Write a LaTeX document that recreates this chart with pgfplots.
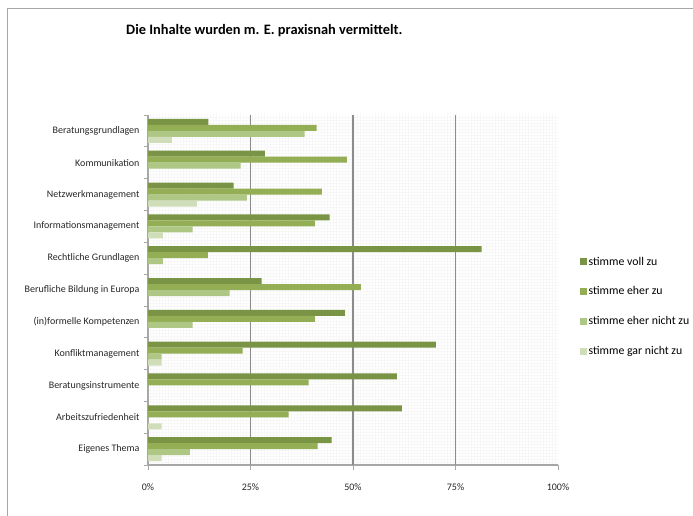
\documentclass[border=0pt]{standalone}
\usepackage{pgfplots}
\pgfplotsset{compat=1.18}
\usepackage{fontspec}
\setmainfont{Carlito}
\usetikzlibrary{patterns}
\definecolor{voll}{HTML}{7A9445}
\definecolor{eher}{HTML}{93AE55}
\definecolor{ehernicht}{HTML}{AEC785}
\definecolor{garnicht}{HTML}{D0DDB9}
\definecolor{achse}{HTML}{A6A6A6}
\definecolor{gitter}{HTML}{8C8C8C}

% Werte in Prozent, Themen von oben (0) nach unten (10)
\pgfplotstableread{
pos voll eher ehernicht garnicht
0  14.7 41.1 38.2 5.8
1  28.5 48.5 22.6 0
2  20.9 42.4 24.1 11.9
3  44.3 40.7 10.9 3.6
4  81.4 14.6 3.6  0
5  27.7 51.9 19.9 0
6  48.0 40.7 10.9 0
7  70.2 23.1 3.3  3.3
8  60.7 39.2 0    0
9  61.9 34.3 0    3.3
10 44.8 41.4 10.2 3.3
}\daten

\begin{document}
\begin{tikzpicture}
\useasboundingbox (0pt,0pt) rectangle (693pt,516pt);
\draw[achse, line width=1pt] (7pt,0pt) -- (7pt,507pt) -- (693pt,507pt);
\node[anchor=west, inner sep=0pt, font=\bfseries\fontsize{14.4}{16}\selectfont]
  at (126pt,485pt) {Die Inhalte wurden m. E. praxisnah vermittelt.};
\begin{axis}[
  at={(148pt,51pt)}, anchor=south west,
  width=410pt, height=350pt, scale only axis,
  xbar=0pt, bar width=6pt,
  xmin=0, xmax=100,
  ymin=-0.5, ymax=10.5, y dir=reverse,
  axis lines*=left,
  axis line style={-, achse, line width=1.2pt},
  axis background/.style={pattern=grid, pattern color=black!3},
  tick align=outside,
  major tick length=5pt, minor tick length=4pt,
  xtick={0,25,50,75,100},
  xticklabels={0\%,25\%,50\%,75\%,100\%},
  xtick style={achse, line width=1pt},
  extra x ticks={25,50,75},
  extra x tick labels={},
  extra x tick style={grid=major, major grid style={gitter, line width=1.2pt}},
  ytick={0,...,10},
  yticklabels={Beratungsgrundlagen,Kommunikation,Netzwerkmanagement,Informationsmanagement,Rechtliche Grundlagen,Berufliche Bildung in Europa,(in)formelle Kompetenzen,Konfliktmanagement,Beratungsinstrumente,Arbeitszufriedenheit,Eigenes Thema},
  every major y tick/.style={draw=none},
  minor ytick={-0.5,0.5,...,10.5},
  every minor y tick/.style={achse, line width=0.8pt},
  ticklabel style={font=\fontsize{10}{12}\selectfont, text=black!85},
  xticklabel style={yshift=-10pt},
  legend style={at={(axis description cs:1.045,0.606)}, anchor=north west,
    draw=none, fill=none, font=\fontsize{11.8}{14}\selectfont,
    row sep=16pt, legend cell align=left},
  legend image code/.code={\fill[#1] (0pt,-3.5pt) rectangle (7pt,3.5pt);},
]
\addplot[fill=voll, draw=none, bar shift=9pt] table[x=voll, y=pos] {\daten};
\addplot[fill=eher, draw=none, bar shift=3pt] table[x=eher, y=pos] {\daten};
\addplot[fill=ehernicht, draw=none, bar shift=-3pt] table[x=ehernicht, y=pos] {\daten};
\addplot[fill=garnicht, draw=none, bar shift=-9pt] table[x=garnicht, y=pos] {\daten};
\legend{stimme voll zu, stimme eher zu, stimme eher nicht zu, stimme gar nicht zu}
\end{axis}
\end{tikzpicture}
\end{document}
